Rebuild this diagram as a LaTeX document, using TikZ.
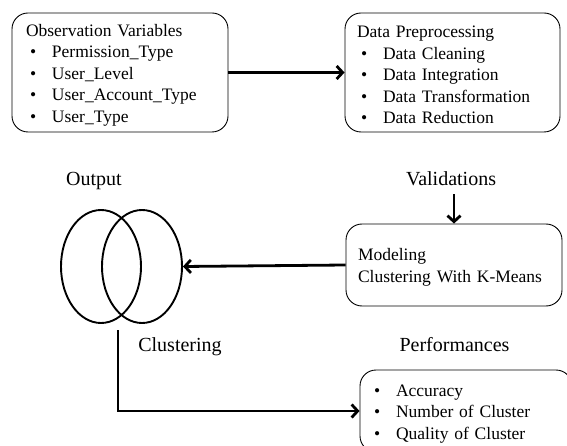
\documentclass[tikz,border=0pt]{standalone}
\usepackage{fontspec}
\setmainfont{Liberation Serif}
\usetikzlibrary{shapes,arrows.meta}
\newcommand{\bitem}[1]{\makebox[26pt][l]{\hspace{4pt}\textbullet}#1}
\newcommand{\firststrut}{\rule{0pt}{17pt}}

\begin{document}
\begin{tikzpicture}[x=1pt,y=-1pt]
\tikzstyle{stagebox}=[rectangle,draw,rounded corners=16pt,line width=0.9pt,align=left,inner ysep=0pt,font=\fontsize{17.5}{21.5}\selectfont]
\tikzstyle{heading}=[inner sep=0pt,font=\fontsize{20}{24}\selectfont]
\tikzstyle{flowline}=[line width=2.8pt,-{Straight Barb[length=6pt,width=13pt]}]
\tikzstyle{cluster}=[ellipse,draw,line width=1.9pt,minimum width=80pt,minimum height=113pt,inner sep=0pt]

\useasboundingbox (0,0) rectangle (567,446);
\clip (0,0) rectangle (567,446);

%input boxes.
\node[stagebox,minimum width=216pt,minimum height=119pt,inner xsep=14pt,text width=188pt] (obs_box) at (120,72.5)
  {\firststrut Observation Variables\\ \bitem{Permission\_Type}\\ \bitem{User\_Level}\\ \bitem{User\_Account\_Type}\\ \bitem{User\_Type}};
\node[stagebox,minimum width=215pt,minimum height=119pt,inner xsep=12pt,text width=191pt] (prep_box) at (452.5,72.5)
  {\firststrut Data Preprocessing\\ \bitem{Data Cleaning}\\ \bitem{Data Integration}\\ \bitem{Data Transformation}\\ \bitem{Data Reduction}};
\draw[flowline] (obs_box) -- (prep_box);

%modeling.
\node[heading] (validations_label) at (451,179) {Validations};
\node[stagebox,minimum width=216pt,minimum height=82pt,inner xsep=12pt,text width=192pt] (model_box) at (454,265)
  {\firststrut Modeling\\ Clustering With K-Means};
\draw[flowline,shorten <=8pt] (validations_label.south -| model_box.north) -- (model_box.north);

%output.
\node[heading] (output_label) at (94,181) {Output};
\node[cluster] (ell_left) at (101,266.5) {};
\node[cluster] (ell_right) at (142,266.5) {};
\node[heading] (clustering_label) at (180,347) {Clustering};
\draw[flowline] (model_box.west) -- (ell_right.east);

%performances.
\node[heading] (performances_label) at (454.5,345) {Performances};
\node[stagebox,minimum width=212pt,minimum height=82pt,inner xsep=10pt,text width=192pt] (perf_box) at (466,411)
  {\firststrut\bitem{Accuracy}\\ \bitem{Number of Cluster}\\ \bitem{Quality of Cluster}};
\coordinate (cluster_base) at (118,330);
\draw[flowline] (cluster_base) |- (perf_box.west);

\end{tikzpicture}
\end{document}
